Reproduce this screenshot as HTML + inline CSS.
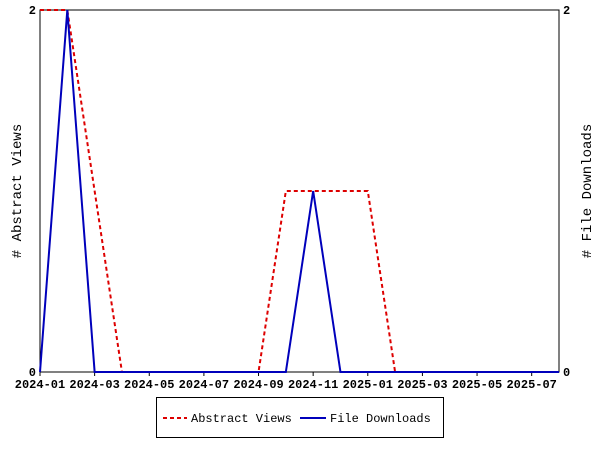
<!DOCTYPE html>
<html><head><meta charset="utf-8"><style>
html,body{margin:0;padding:0;background:#fff;}
svg{display:block;font-family:"Liberation Mono",monospace;font-size:12px;}
</style></head><body>
<svg id="chart" width="600" height="450"></svg>
<script>
const months=["2024-01","2024-02","2024-03","2024-04","2024-05","2024-06","2024-07","2024-08","2024-09","2024-10","2024-11","2024-12","2025-01","2025-02","2025-03","2025-04","2025-05","2025-06","2025-07","2025-08"];
const abstractViews=[2,2,1,0,0,0,0,0,0,1,1,1,1,0,0,0,0,0,0,0];
const fileDownloads=[0,2,0,0,0,0,0,0,0,0,1,0,0,0,0,0,0,0,0,0];
const tickLabels=["2024-01","2024-03","2024-05","2024-07","2024-09","2024-11","2025-01","2025-03","2025-05","2025-07"];
const yTicks=[0,2];
const NS="http://www.w3.org/2000/svg";
const svg=document.getElementById('chart');
const L=40,R=559,T=10,B=372,yMax=2;
const x=i=>L+(R-L)*i/(months.length-1);
const y=v=>B-(B-T)*v/yMax;
function mk(tag,attrs,parent){const e=document.createElementNS(NS,tag);for(const k in attrs)e.setAttribute(k,attrs[k]);(parent||svg).appendChild(e);return e;}
const frame=mk('rect',{x:L,y:T,width:R-L,height:B-T,fill:'none',stroke:'#000'});


tickLabels.forEach(lb=>{const i=months.indexOf(lb);
 const tk=mk('line',{x1:x(i),x2:x(i),y1:B,y2:B+4,stroke:'#000'});
 
 
 const t=mk('text',{x:x(i),y:B+16,'text-anchor':'middle','font-weight':'bold'});t.textContent=lb;
 
 
});
yTicks.forEach(v=>{
 const t=mk('text',{x:L-4,y:y(v)+4,'text-anchor':'end','font-weight':'bold'});t.textContent=v;
 
 
 const t2=mk('text',{x:R+4,y:y(v)+4,'text-anchor':'start','font-weight':'bold'});t2.textContent=v;
 
 
});
const yl=mk('text',{x:0,y:0,transform:'translate(21,191) rotate(-90)','text-anchor':'middle','font-size':'14'});yl.textContent='# Abstract Views';


const yr=mk('text',{x:0,y:0,transform:'translate(591,191) rotate(-90)','text-anchor':'middle','font-size':'14'});yr.textContent='# File Downloads';


const p1=mk('polyline',{points:abstractViews.map((v,i)=>x(i)+','+y(v)).join(' '),fill:'none',stroke:'#dd0000','stroke-width':2,'stroke-dasharray':'4,3'});


const p2=mk('polyline',{points:fileDownloads.map((v,i)=>x(i)+','+y(v)).join(' '),fill:'none',stroke:'#0000bb','stroke-width':2});


const lg=mk('g',{});


mk('rect',{x:156.5,y:397.5,width:287,height:40,fill:'#fff',stroke:'#000'},lg);
mk('line',{x1:163,x2:187,y1:418,y2:418,stroke:'#dd0000','stroke-width':2,'stroke-dasharray':'4,3'},lg);
const lt1=mk('text',{x:191,y:422},lg);lt1.textContent='Abstract Views';


mk('line',{x1:300,x2:326,y1:418,y2:418,stroke:'#0000bb','stroke-width':2},lg);
const lt2=mk('text',{x:330,y:422},lg);lt2.textContent='File Downloads';


</script>
</body></html>
